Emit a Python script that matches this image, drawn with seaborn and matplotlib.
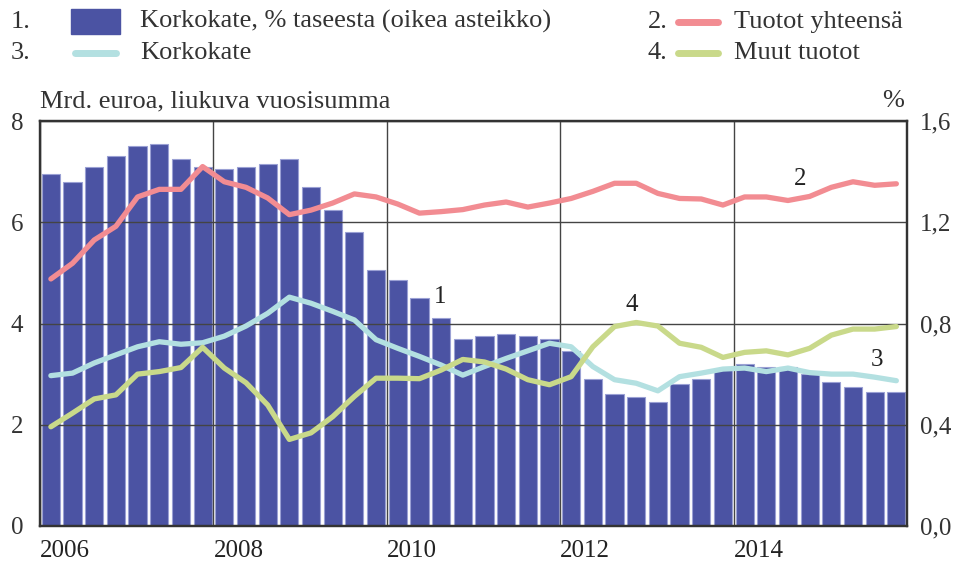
import matplotlib
matplotlib.use("Agg")
import matplotlib.pyplot as plt
import seaborn as sns
import pandas as pd
import numpy as np
from matplotlib.lines import Line2D
from matplotlib.patches import Rectangle

# quarterly data 2006Q1 - 2015Q4
start_year = 2006
n_quarters = 40

# 1. Korkokate, % taseesta (right axis)
margin_pct = [1.39, 1.36, 1.42, 1.46, 1.50, 1.51, 1.45, 1.42, 1.41, 1.42,
              1.43, 1.45, 1.34, 1.25, 1.16, 1.01, 0.97, 0.90, 0.82, 0.74,
              0.75, 0.76, 0.75, 0.74, 0.69, 0.58, 0.52, 0.51, 0.49, 0.56,
              0.58, 0.62, 0.64, 0.63, 0.63, 0.60, 0.57, 0.55, 0.53, 0.53]
# 2. Tuotot yhteensä (Mrd. euroa)
total_income = [4.88, 5.19, 5.65, 5.92, 6.50, 6.65, 6.65, 7.10, 6.80, 6.69,
                6.48, 6.15, 6.24, 6.38, 6.56, 6.50, 6.36, 6.18, 6.21, 6.25,
                6.34, 6.40, 6.30, 6.38, 6.47, 6.61, 6.77, 6.77, 6.57, 6.47,
                6.46, 6.34, 6.50, 6.50, 6.43, 6.51, 6.69, 6.80, 6.73, 6.76]
# 3. Korkokate (Mrd. euroa)
net_interest = [2.97, 3.02, 3.22, 3.38, 3.54, 3.64, 3.59, 3.62, 3.75, 3.95,
                4.20, 4.52, 4.40, 4.24, 4.07, 3.68, 3.51, 3.35, 3.18, 2.98,
                3.15, 3.31, 3.46, 3.61, 3.54, 3.15, 2.89, 2.82, 2.67, 2.95,
                3.02, 3.10, 3.12, 3.05, 3.12, 3.03, 3.00, 3.00, 2.94, 2.87]
# 4. Muut tuotot (Mrd. euroa)
other_income = [1.96, 2.23, 2.51, 2.59, 3.00, 3.05, 3.13, 3.53, 3.12, 2.83,
                2.39, 1.71, 1.84, 2.16, 2.56, 2.92, 2.92, 2.91, 3.08, 3.29,
                3.24, 3.10, 2.89, 2.79, 2.95, 3.54, 3.94, 4.02, 3.95, 3.61,
                3.53, 3.33, 3.43, 3.46, 3.38, 3.51, 3.77, 3.89, 3.89, 3.94]

year_ticks = [2006, 2008, 2010, 2012, 2014]
left_ticks = [0, 2, 4, 6, 8]
right_ticks = [0.0, 0.4, 0.8, 1.2, 1.6]

c_bar = "#4b53a3"
c_total = "#f28c92"
c_nii = "#b3e0e1"
c_other = "#c9d98a"
c_grid = "#444444"

x = start_year + np.arange(n_quarters) * 0.25 + 0.125
df = pd.DataFrame({"x": x, "margin": margin_pct, "total": total_income,
                   "nii": net_interest, "other": other_income})

sns.set_style("white")
plt.rcParams["font.family"] = ["Liberation Serif", "DejaVu Serif"]
plt.rcParams["text.color"] = "#333333"

fig = plt.figure(figsize=(9.6, 5.7), dpi=100)
ax = fig.add_axes([0.0417, 0.0772, 0.9033, 0.7105])
ax2 = ax.twinx()

# bars on the percent axis (right side)
sns.barplot(data=df, x="x", y="margin", native_scale=True, width=0.84,
            color=c_bar, saturation=1, edgecolor="#9aa0d4", linewidth=0.8,
            ax=ax, zorder=1)
ax.set_ylim(0, 1.6)
ax.set_xlim(2006, 2016)
ax.set_yticks(right_ticks)
ax.set_yticklabels([f"{v:.1f}".replace(".", ",") for v in right_ticks])
ax.set_xticks(year_ticks)
ax.set_xticklabels([str(y) for y in year_ticks], ha="left")
ax.set_xlabel("")
ax.set_ylabel("")
ax.set_axisbelow(False)
ax.grid(True, color=c_grid, linewidth=1.0)
ax.tick_params(axis="y", labelsize=18, length=0, pad=9, colors="#333333",
               left=False, labelleft=False, right=True, labelright=True)
ax.tick_params(axis="x", labelsize=18, length=0, pad=10, colors="#222222")

# lines on the left axis
for col, colr in [("total", c_total), ("nii", c_nii), ("other", c_other)]:
    sns.lineplot(data=df, x="x", y=col, color=colr, linewidth=3.8,
                 solid_capstyle="round", solid_joinstyle="round", ax=ax2)
ax2.set_ylim(0, 8)
ax2.set_xlim(2006, 2016)
ax2.set_yticks(left_ticks)
ax2.set_ylabel("")
ax2.set_xlabel("")
ax2.tick_params(axis="y", labelsize=18, length=0, pad=12, colors="#333333",
                left=True, labelleft=True, right=False, labelright=False)
ax2.grid(False)

for a in (ax, ax2):
    for s in a.spines.values():
        s.set_color("#333333")
        s.set_linewidth(1.6)
        s.set_visible(True)

# series labels in chart
ax2.text(2010.61, 4.53, "1", fontsize=18, ha="center", va="center", color="#222222")
ax2.text(2014.76, 6.86, "2", fontsize=18, ha="center", va="center", color="#222222")
ax2.text(2015.65, 3.28, "3", fontsize=18, ha="center", va="center", color="#222222")
ax2.text(2012.82, 4.37, "4", fontsize=18, ha="center", va="center", color="#222222")

# axis titles
fig.text(0.0417, 0.822, "Mrd. euroa, liukuva vuosisumma", fontsize=19,
         ha="left", va="center", color="#333333")
fig.text(0.942, 0.822, "%", fontsize=19, ha="right", va="center", color="#333333")

# legend, drawn manually to get numbered entries
rows = [0.962, 0.907]
entries = [
    ("1.", "bar", c_bar, "Korkokate, % taseesta (oikea asteikko)", 0.011, 0),
    ("2.", "line", c_total, "Tuotot yhteensä", 0.675, 0),
    ("3.", "line", c_nii, "Korkokate", 0.011, 1),
    ("4.", "line", c_other, "Muut tuotot", 0.675, 1),
]
for num, kind, colr, label, x0, r in entries:
    yy = rows[r]
    fig.text(x0, yy, num, fontsize=19, ha="left", va="center", color="#333333")
    if x0 < 0.5:
        hx0, hx1, tx = 0.074, 0.125, 0.146
    else:
        hx0, hx1, tx = 0.702, 0.752, 0.765
    if kind == "bar":
        fig.add_artist(Rectangle((hx0, yy - 0.022), hx1 - hx0, 0.044,
                                 transform=fig.transFigure, color=colr))
    else:
        fig.add_artist(Line2D([hx0 + 0.004, hx1 - 0.004], [yy, yy],
                              transform=fig.transFigure, color=colr,
                              linewidth=5, solid_capstyle="round"))
    fig.text(tx, yy, label, fontsize=19, ha="left", va="center", color="#333333")

fig.savefig("out.png", dpi=100)
